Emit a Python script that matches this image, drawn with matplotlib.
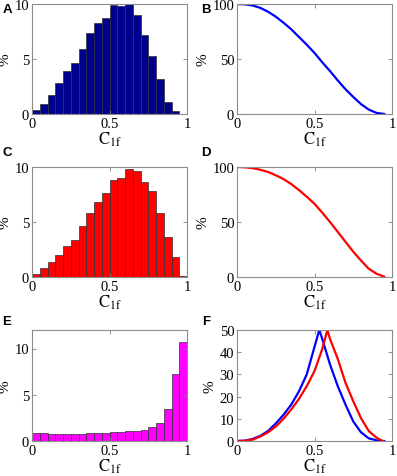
import matplotlib
matplotlib.use("Agg")
import matplotlib.pyplot as plt

plt.rcParams['font.family'] = ['Liberation Serif', 'DejaVu Serif']
plt.rcParams['mathtext.fontset'] = 'stix'

# histogram bins (width 0.05 from 0 to 1)
bin_left = [0.00, 0.05, 0.10, 0.15, 0.20, 0.25, 0.30, 0.35, 0.40, 0.45,
            0.50, 0.55, 0.60, 0.65, 0.70, 0.75, 0.80, 0.85, 0.90, 0.95]
hist_a = [0.36, 0.94, 1.76, 2.8, 3.9, 4.6, 5.9, 7.4, 8.3, 8.7,
          9.9, 9.85, 10.0, 9.0, 7.2, 5.3, 3.2, 1.06, 0.27, 0.0]
hist_c = [0.27, 0.82, 1.36, 1.97, 2.8, 3.4, 4.6, 5.85, 6.8, 7.6,
          8.8, 9.0, 9.85, 9.65, 8.6, 7.8, 5.85, 3.6, 1.8, 0.05]
hist_e = [0.84, 0.87, 0.8, 0.73, 0.73, 0.76, 0.8, 0.84, 0.87, 0.91,
          0.95, 0.98, 1.05, 1.13, 1.24, 1.49, 1.93, 3.45, 7.27, 10.7]

# survival curves
curve_x = [0.0, 0.05, 0.1, 0.15, 0.2, 0.25, 0.3, 0.35, 0.4, 0.45,
           0.5, 0.55, 0.6, 0.65, 0.7, 0.75, 0.8, 0.85, 0.9, 0.95]
surv_b = [100, 99.7, 98.7, 96.5, 93, 88.5, 83, 77, 70, 63,
          55.5, 47, 39, 30.5, 22.5, 15.5, 9, 4, 1, 0]
surv_d = [100, 99.7, 99, 97.5, 95.5, 92.5, 89, 84.5, 79, 73,
          66.5, 58.5, 50, 41, 32, 23, 15, 7.5, 3, 0.3]

# panel F
f_blue_x = [0.0, 0.05, 0.1, 0.15, 0.2, 0.25, 0.3, 0.35, 0.4, 0.45, 0.5, 0.531,
            0.55, 0.6, 0.65, 0.7, 0.75, 0.8, 0.85, 0.9, 0.93, 0.95]
f_blue_y = [0, 0.15, 0.9, 2.3, 4.5, 7.9, 11.8, 16.4, 22.4, 30, 42.4, 50,
            46, 34.5, 24.7, 16.4, 8.8, 3.9, 1.2, 0.3, 0, 0]
f_red_x = [0.0, 0.05, 0.1, 0.15, 0.2, 0.25, 0.3, 0.35, 0.4, 0.45, 0.5, 0.55, 0.583,
           0.6, 0.65, 0.7, 0.75, 0.8, 0.85, 0.9, 0.94]
f_red_y = [0, 0.1, 0.6, 2.0, 3.9, 6.5, 10, 14.2, 19, 24.7, 31.5, 41.4, 50,
           46, 37, 26.2, 17.9, 10.3, 4.5, 1.5, 0]

fig = plt.figure(figsize=(3.97, 4.77), dpi=100)

W = 155 / 397
lefts = [32 / 397, 237 / 397]
bottoms = [(477 - 115) / 477, (477 - 278) / 477, (477 - 442) / 477]
heights = [110 / 477, 110 / 477, 111 / 477]


def style(ax, ylim, yticks):
    ax.set_xlim(0, 1)
    ax.set_ylim(*ylim)
    ax.set_xticks([0, 0.5, 1])
    ax.set_xticklabels(['0', '0.5', '1'])
    ax.set_yticks(yticks)
    ax.tick_params(direction='in', length=3, width=0.6, labelsize=10.5,
                   top=True, right=True, color='#808080', pad=2)
    for s in ax.spines.values():
        s.set_color('#8c8c8c')
        s.set_linewidth(0.8)
    ax.set_xlabel(r'$\mathrm{C_{1f}}$', fontsize=12, labelpad=0)
    ax.set_ylabel('%', fontsize=11, labelpad=2)


axes = {}
for r in range(3):
    for c in range(2):
        axes[(r, c)] = fig.add_axes([lefts[c], bottoms[r], W, heights[r]])

ax = axes[(0, 0)]
ax.bar(bin_left, hist_a, width=0.05, align='edge', color='#00008f', edgecolor='#303030', linewidth=0.5)
style(ax, (0, 10), [0, 5, 10])

ax = axes[(0, 1)]
ax.plot(curve_x, surv_b, color='#0000ff', lw=1.6)
style(ax, (0, 100), [0, 50, 100])

ax = axes[(1, 0)]
ax.bar(bin_left, hist_c, width=0.05, align='edge', color='#ff0000', edgecolor='#303030', linewidth=0.5)
style(ax, (0, 10), [0, 5, 10])

ax = axes[(1, 1)]
ax.plot(curve_x, surv_d, color='#ff0000', lw=1.6)
style(ax, (0, 100), [0, 50, 100])

ax = axes[(2, 0)]
ax.bar(bin_left, hist_e, width=0.05, align='edge', color='#ff00ff', edgecolor='#303030', linewidth=0.5)
style(ax, (0, 12), [0, 5, 10])

ax = axes[(2, 1)]
ax.plot(f_blue_x, f_blue_y, color='#0000ff', lw=1.6)
ax.plot(f_red_x, f_red_y, color='#ff0000', lw=1.6)
style(ax, (0, 50), [0, 10, 20, 30, 40, 50])

letters = [('A', 7, 10), ('B', 206, 10), ('C', 7, 153), ('D', 206, 153), ('E', 7, 322), ('F', 206, 322)]
for lab, px, py in letters:
    fig.text(px / 397, 1 - py / 477, lab, fontsize=9.5, fontweight='bold',
             family=['Liberation Sans', 'DejaVu Sans'], ha='center', va='center')

fig.savefig('out.png', dpi=100)
